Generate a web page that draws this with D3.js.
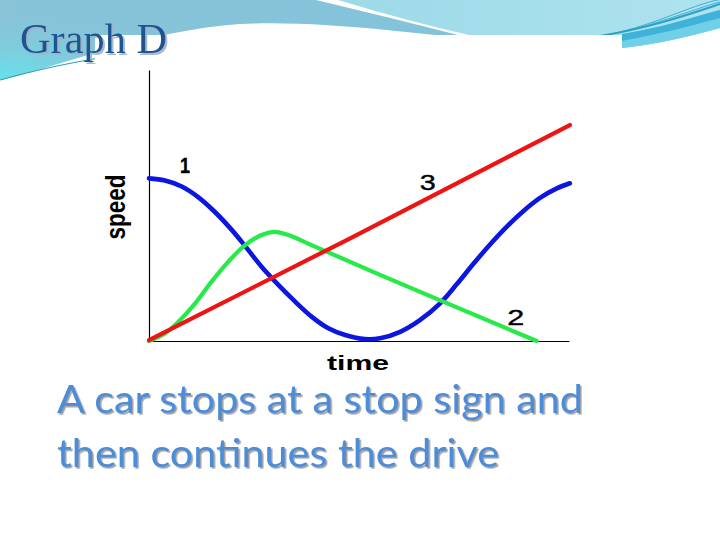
<!DOCTYPE html>
<html><head><meta charset="utf-8">
<script src="https://cdn.jsdelivr.net/npm/d3@7"></script>
<style>body{margin:0;background:#fff}svg{display:block}</style>
</head><body>
<svg id="c" width="720" height="540"></svg>
<script>
// ---- data (time 0..100, speed 0..100, arbitrary units) ----
const series1Time  = [0, 3.8, 7.8, 11.7, 15.7, 19.7, 22.9, 26.8, 30.8, 34.8, 38.7, 42.7, 46.7, 51.4, 55.0, 59.8, 64.5, 69.3, 73.3, 77.2, 81.2, 85.2, 89.1, 93.1, 97.1, 100.2];
const series1Speed = [60.0, 59.2, 57.0, 53.1, 47.6, 41.0, 35.0, 27.4, 20.7, 14.5, 9.0, 4.7, 2.2, 0.7, 1.0, 3.4, 7.7, 13.9, 21.0, 28.4, 35.6, 42.2, 47.9, 52.8, 56.3, 58.2];
const series2Time  = [0, 3.8, 7.0, 11.0, 14.9, 18.9, 22.9, 26.8, 30.0, 33.2, 38.7, 55.0, 92.3];
const series2Speed = [0, 2.8, 7.1, 13.9, 21.9, 29.3, 35.4, 39.1, 40.3, 39.1, 35.4, 24.4, 0];
const series3Time  = [0, 47.9, 100.2];
const series3Speed = [0.3, 37.9, 79.7];
const seriesNames  = ["1", "2", "3"];
const xLabel = "time", yLabel = "speed";
const title = "Graph D";
const captionLines = ["A car stops at a stop sign and", "then continues the drive"];

const svg = d3.select("#c");
const defs = svg.append("defs");

// shadows
const f1 = defs.append("filter").attr("id","sh1").attr("x","-5%").attr("y","-20%").attr("width","115%").attr("height","150%");
f1.append("feDropShadow").attr("dx",2).attr("dy",2).attr("stdDeviation",0.6).attr("flood-color","#9fb3c8").attr("flood-opacity",0.9);
const f2 = defs.append("filter").attr("id","sh2").attr("x","-5%").attr("y","-20%").attr("width","115%").attr("height","150%");
f2.append("feDropShadow").attr("dx",1.6).attr("dy",1.6).attr("stdDeviation",0.5).attr("flood-color","#9a9a9a").attr("flood-opacity",0.95);

// ---- slide decoration ----
const rg = defs.append("radialGradient").attr("id","cy").attr("cx",0).attr("cy",1).attr("r",0.9);
rg.append("stop").attr("offset","0%").attr("stop-color","#5fe6ef");
rg.append("stop").attr("offset","100%").attr("stop-color","#8cc4d8").attr("stop-opacity",0);
const lg = defs.append("linearGradient").attr("id","lb").attr("x1",0).attr("x2",1).attr("y1",0).attr("y2",0);
lg.append("stop").attr("offset","0%").attr("stop-color","#88c3d8");
lg.append("stop").attr("offset","100%").attr("stop-color","#80c4dc");
const lg2 = defs.append("linearGradient").attr("id","rb").attr("x1",0).attr("x2",1).attr("y1",0).attr("y2",0);
lg2.append("stop").attr("offset","0%").attr("stop-color","#9dd9e8");
lg2.append("stop").attr("offset","100%").attr("stop-color","#aee3ee");

const bandPath = "M0,80 C60,66 150,30 240,24 C320,20 420,34 500,42 C560,48 600,50 622,48 C660,44 690,36 720,28 L720,0 L0,0 Z";
svg.append("path").attr("d", bandPath).attr("fill","url(#lb)");
svg.append("path").attr("d", "M0,80 C60,66 150,30 240,24 L240,0 L0,0 Z").attr("fill","url(#cy)").attr("opacity",0.9);
svg.append("path").attr("d","M336,0 L720,0 L720,28 C690,36 660,44 622,48 L480,40 Q410,22 336,0 Z").attr("fill","url(#rb)");
svg.append("path").attr("d","M316,0 L338,0 Q410,22 482,38 L470,38 Q392,18 316,0 Z").attr("fill","#ffffff");
svg.append("path").attr("d","M622,34 C660,28 690,18 720,10 L720,28 C690,36 660,44 622,48 Z").attr("fill","#6fd0e8");
svg.append("path").attr("d","M622,34 C660,28 690,18 720,10 L720,18 C690,26 660,34 622,41 Z").attr("fill","#3fb2da");
[[0,2],[4,0.8],[9,0.8]].forEach(([dy,w])=>{
  svg.append("path").attr("d",`M600,36 C650,28 690,${14-dy} 720,${4-dy/2}`).attr("fill","none").attr("stroke","#2aa0c8").attr("stroke-width",w);
});
svg.append("path").attr("d","M0,80 C50,66 100,56 160,50").attr("fill","none").attr("stroke","#2e9fae").attr("stroke-width",1.2);

// chart picture background
svg.append("rect").attr("x",95).attr("y",35).attr("width",527).attr("height",340).attr("fill","#ffffff");

// title
svg.append("text").attr("x",20).attr("y",53).attr("fill","#1b5592")
  .attr("font-family","'Liberation Serif', 'DejaVu Serif', serif").attr("font-size",43)
  .attr("textLength",147).attr("lengthAdjust","spacingAndGlyphs")
  .attr("filter","url(#sh1)").text(title);

// ---- chart ----
const x = d3.scaleLinear().domain([0,100]).range([149,569]);
const y = d3.scaleLinear().domain([0,100]).range([341,70]);

svg.append("g").attr("transform",`translate(0,${y(0)})`)
  .call(d3.axisBottom(x).tickValues([]).tickSizeOuter(0))
  .call(g=>g.select(".domain").attr("stroke","#000").attr("stroke-width",1.2));
svg.append("g").attr("transform",`translate(${x(0)},0)`)
  .call(d3.axisLeft(y).tickValues([]).tickSizeOuter(0))
  .call(g=>g.select(".domain").attr("stroke","#000").attr("stroke-width",1.2));

const line = d3.line().x(d=>x(d[0])).y(d=>y(d[1])).curve(d3.curveCatmullRom.alpha(0.5));
const s1 = series1Time.map((t,i)=>[t,series1Speed[i]]);
const s2 = series2Time.map((t,i)=>[t,series2Speed[i]]);
const s3 = series3Time.map((t,i)=>[t,series3Speed[i]]);

svg.append("path").datum(s1).attr("d",line).attr("fill","none").attr("stroke","#0c16e0").attr("stroke-width",4.6).attr("stroke-linecap","round");
svg.append("path").datum(s2).attr("d",line).attr("fill","none").attr("stroke","#26ea4a").attr("stroke-width",4.2).attr("stroke-linecap","round");
svg.append("path").datum(s3).attr("d",d3.line().x(d=>x(d[0])).y(d=>y(d[1]))).attr("fill","none").attr("stroke","#ee1414").attr("stroke-width",4.2).attr("stroke-linecap","round");

// series number labels
const lab = svg.append("g").attr("font-family","'Liberation Sans', Arial, sans-serif").attr("font-size",22)
  .attr("fill","#000").attr("stroke","#000").attr("stroke-width",0.4).attr("text-anchor","middle");
const labPos = [[8.6,65.0,10],[87.3,8.8,17],[66.4,58.6,16]];
seriesNames.forEach((n,i)=>{
  lab.append("text").attr("x",x(labPos[i][0])).attr("y",y(labPos[i][1])+8).attr("font-weight", n==="1"?"bold":"normal")
    .attr("textLength",labPos[i][2]).attr("lengthAdjust","spacingAndGlyphs").text(n);
});

// axis titles
svg.append("text").attr("x",x(50)-1).attr("y",370).attr("text-anchor","middle")
  .attr("font-family","'Liberation Sans', Arial, sans-serif").attr("font-weight","bold").attr("font-size",21)
  .attr("textLength",62).attr("lengthAdjust","spacingAndGlyphs").text(xLabel);
svg.append("text").attr("transform","translate(125,207) rotate(-90)").attr("text-anchor","middle")
  .attr("font-family","'Liberation Sans', Arial, sans-serif").attr("font-weight","bold").attr("font-size",28)
  .attr("textLength",65).attr("lengthAdjust","spacingAndGlyphs").text(yLabel);

// caption
const cap = svg.append("g").attr("font-family","Lato, 'Open Sans', sans-serif").attr("font-size",38).attr("filter","url(#sh2)");
const capLens = [526, 442];
captionLines.forEach((t,i)=>{
  cap.append("text").attr("x",57).attr("y",413 + i*54).attr("fill","#4b8dd8")
    .attr("textLength",capLens[i]).attr("lengthAdjust","spacingAndGlyphs").text(t);
});
</script>
</body></html>
